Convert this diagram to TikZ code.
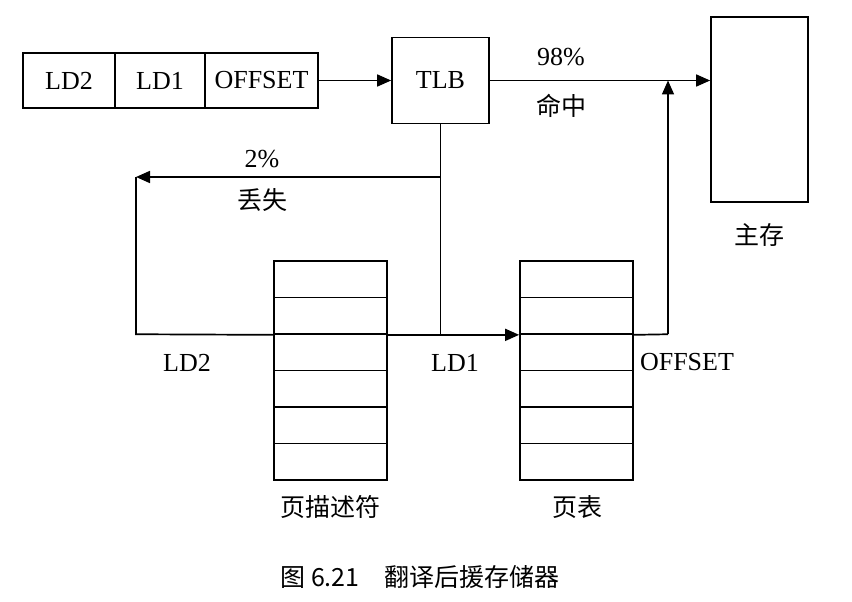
\documentclass[tikz,border=0pt]{standalone}
\usepackage{fontspec}
\setmainfont{Liberation Serif}
\newfontfamily\cjk{Noto Sans CJK SC}
\usetikzlibrary{arrows.meta}
\begin{document}
\begin{tikzpicture}[x=1pt,y=-1pt,
  cell/.style={draw, line width=1.7pt, inner sep=0pt},
  lat/.style={font=\fontsize{26}{30}\selectfont, inner sep=0pt},
  zh/.style={font=\cjk\fontsize{25}{28}\selectfont, inner sep=0pt},
  conn/.style={line width=1.7pt},
  arr/.style={-{Triangle[length=14pt,width=12pt]}}]
\useasboundingbox (0,0) rectangle (852,602);
% address fields
\node[cell, lat, minimum width=92pt, minimum height=55pt] (fld2) at (69,80.5) {LD2};
\node[cell, lat, minimum width=90pt, minimum height=55pt] (fld1) at (160,80.5) {LD1};
\node[cell, lat, minimum width=113pt, minimum height=55pt] (foff) at (261.5,80.5) {OFFSET};
% TLB and main memory
\node[cell, lat, minimum width=97pt, minimum height=86pt] (tlb) at (440.5,80.5) {TLB};
\node[cell, minimum width=97pt, minimum height=185pt] (mem) at (759.5,109.5) {};
% descriptor and page table
\foreach \i in {0,...,5} {
  \node[cell, minimum width=113pt, minimum height=36.5pt] (d\i) at (330.5,{279.25+36.5*\i}) {};
  \node[cell, minimum width=113pt, minimum height=36.5pt] (p\i) at (576.5,{279.25+36.5*\i}) {};
}
% helper coordinates
\coordinate (missy) at (0,177);
\coordinate (corner) at (136,177);
\coordinate (cornerlow) at (136,334.25);
\coordinate (up) at (668,334.25);
% connectors
\draw[conn,arr] (foff.east) -- (tlb.west);
\draw[conn,arr] (tlb.east) -- (tlb.east -| mem.west);
\draw[conn] (tlb.south) -- (tlb.south |- d1.south);
\draw[conn,arr] (tlb.south |- missy) -- (corner);
\draw[conn] (corner) -- (cornerlow) -- (d1.south west);
\draw[conn,arr] (d1.south east) -- (p1.south west);
\draw[conn] (p1.south east) -- (up);
\draw[conn,arr] (up) -- (up |- tlb.east);
% labels
\node[lat] (l98) at (561,57) {98\%};
\node[zh] (lhit) at (561,106) {命中};
\node[lat] (l2) at (262,159) {2\%};
\node[zh] (lmiss) at (262,200) {丢失};
\node[lat] (lld2) at (187,363) {LD2};
\node[lat] (lld1) at (455,363) {LD1};
\node[lat] (loff) at (687,362) {OFFSET};
\node[zh] (ldesc) at (330,507) {页描述符};
\node[zh] (lpt) at (577,507) {页表};
\node[zh] (lmem) at (759,235) {主存};
\node[zh] (cap) at (420,577) {图 6.21\quad 翻译后援存储器};
\end{tikzpicture}
\end{document}
